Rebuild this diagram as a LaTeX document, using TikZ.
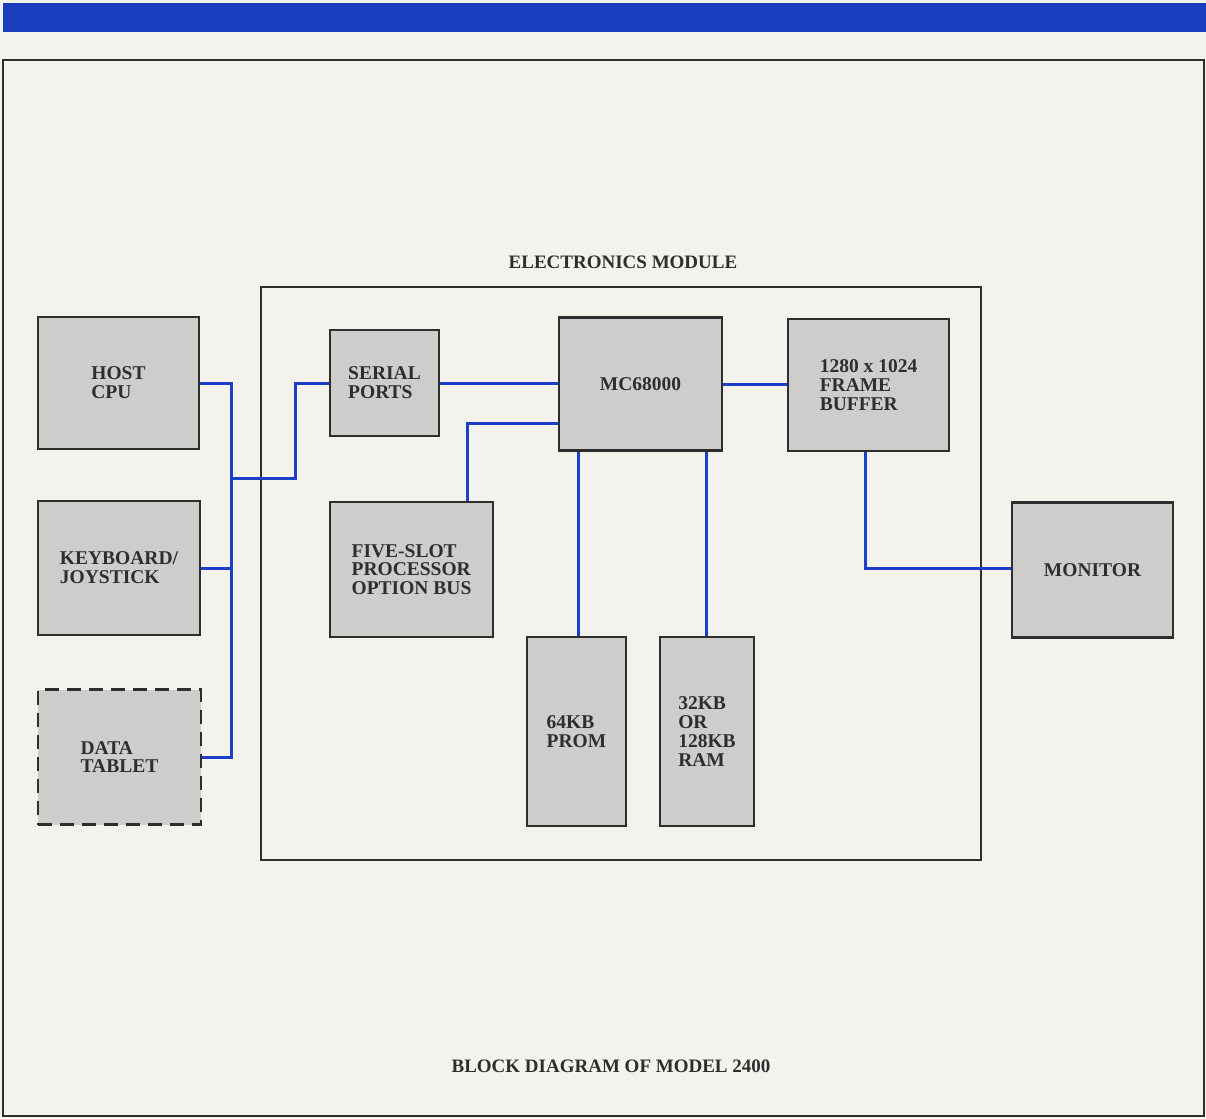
\documentclass[tikz,border=0pt]{standalone}
\usepackage{fontspec}
\setmainfont{Liberation Serif}
\usepackage{tikz}
\usepackage{xcolor}
\usetikzlibrary{calc, positioning}
\definecolor{paper}{HTML}{F4F2EC}
\definecolor{boxgray}{HTML}{CDCDCB}
\definecolor{inkgray}{HTML}{2E2E2E}
\definecolor{wireblue}{HTML}{1C3FCC}
\definecolor{barblue}{HTML}{1A3DBE}

\begin{document}
\begin{tikzpicture}[x=1pt, y=-1pt,
                        block/.style={draw=inkgray, fill=boxgray, line width=2.6pt, align=left, text=inkgray,
                                      font=\fontsize{19.5}{18.8}\selectfont\bfseries, inner sep=0pt},
                        wire/.style={draw=wireblue, line width=3pt},
                        caption/.style={text=inkgray, font=\fontsize{19}{19}\selectfont\bfseries}]
                        \useasboundingbox (0, 0) rectangle (1206, 1118);
                        \fill[paper] (0, 0) rectangle (1206, 1118);
                        \fill[barblue] (3, 3) rectangle (1206, 32);
                        \draw[inkgray, line width=2.2pt] (3, 60) rectangle (1204, 1116);
                        \draw[inkgray, line width=2.2pt] (261, 287) rectangle (981, 860);

                        \node[caption] (modlabel) at (623, 262) {ELECTRONICS MODULE};
                        \node[caption] (title) at (611, 1066) {BLOCK DIAGRAM OF MODEL 2400};

                        \node[block, minimum width=161, minimum height=132] (host) at (118.5, 383) {HOST\\CPU};
                        \node[block, minimum width=162, minimum height=134] (keyb) at (119, 568) {KEYBOARD/\\JOYSTICK};
                        \node[block, minimum width=163, minimum height=135, dashed, dash pattern=on 14pt off 8pt] (tablet) at (119.5, 757) {DATA\\TABLET};
                        \node[block, minimum width=109, minimum height=106] (serial) at (384.5, 383) {SERIAL\\PORTS};
                        \node[block, minimum width=163, minimum height=133] (cpu) at (640.5, 384) {MC68000};
                        \node[block, minimum width=161, minimum height=132] (fbuf) at (868.5, 385) {1280 x 1024\\FRAME\\BUFFER};
                        \node[block, minimum width=163, minimum height=135] (bus5) at (411.5, 569.5) {FIVE-SLOT\\PROCESSOR\\OPTION BUS};
                        \node[block, minimum width=99, minimum height=189] (prom) at (576.5, 731.5) {64KB\\PROM};
                        \node[block, minimum width=94, minimum height=189] (ram) at (707, 731.5) {32KB\\OR\\128KB\\RAM};
                        \node[block, minimum width=161, minimum height=135] (mon) at (1092.5, 570) {MONITOR};

                        \coordinate (tap) at (231, 757);
                        \coordinate (join) at (231, 478);
                        \coordinate (hop) at (295, 478);

                        \draw[wire]
                        (host.east) -| (tap) -- (tablet.east)
                        (keyb.east) -- (keyb.east -| tap)
                        (join) -- (hop) |- (serial.west)
                        (serial.east) -- (serial.east -| cpu.west)
                        ([yshift=-39pt]cpu.west) -| ([xshift=55.5pt]bus5.north)
                        ([xshift=1.5pt]prom.north) -- ([xshift=1.5pt]prom.north |- cpu.south)
                        ([xshift=-1pt]ram.north) -- ([xshift=-1pt]ram.north |- cpu.south)
                        (cpu.east) -- (cpu.east -| fbuf.west)
                        ([xshift=-3.5pt]fbuf.south) |- ([yshift=2pt]mon.west);
                    \end{tikzpicture}
\end{document}
